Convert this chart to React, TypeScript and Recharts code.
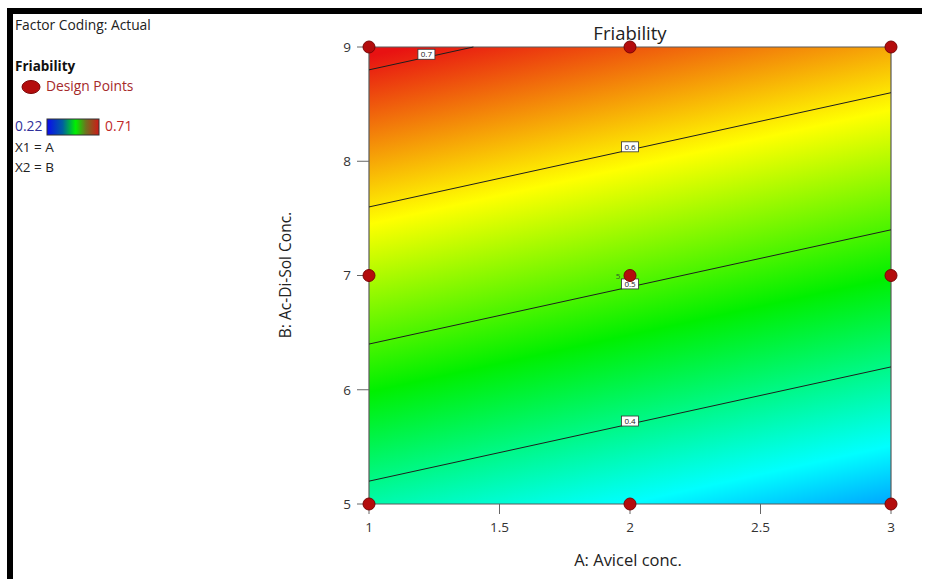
import React from 'react';
import {
  ComposedChart,
  XAxis,
  YAxis,
  Scatter,
  ReferenceArea,
  ReferenceLine,
} from 'recharts';

// ---- axes ----
const xTicks = [1, 1.5, 2, 2.5, 3];
const yTicks = [5, 6, 7, 8, 9];
const xDomain = [1, 3];
const yDomain = [5, 9];

// ---- design points (A: Avicel conc., B: Ac-Di-Sol Conc.) ----
const designA = [1, 2, 3, 1, 2, 3, 1, 2, 3];
const designB = [5, 5, 5, 7, 7, 7, 9, 9, 9];
const designRuns = [1, 1, 1, 1, 5, 1, 1, 1, 1];

// ---- contour lines of Friability ----
const contourLevels = ['0.4', '0.5', '0.6', '0.7'];
const contourStartA = [1, 1, 1, 1];
const contourStartB = [5.2, 6.4, 7.6, 8.8];
const contourEndA = [3, 3, 3, 1.4];
const contourEndB = [6.2, 7.4, 8.6, 9];
const contourLabelA = [2, 2, 2, 1.22];

// ---- fitted linear surface: F = c + a*A + b*B ----
const surfaceIntercept = 0.00833;
const surfaceCoefA = -0.041667;
const surfaceCoefB = 0.083333;

// ---- colour map ----
const colorRange = [0.22, 0.71];
const colorScale = ['#0000ff', '#00ffff', '#00f000', '#ffff00', '#e81212'];

const designPoints = designA.map((a, i) => ({ a, b: designB[i], runs: designRuns[i] }));
const contourLabels = contourLevels.map((text, i) => {
  const t = (contourLabelA[i] - contourStartA[i]) / (contourEndA[i] - contourStartA[i]);
  return { a: contourLabelA[i], b: contourStartB[i] + t * (contourEndB[i] - contourStartB[i]), text };
});

// gradient vector in the plot's bounding-box units (u right, v down)
const f0 = surfaceIntercept + surfaceCoefA * xDomain[0] + surfaceCoefB * yDomain[1];
const fu = surfaceCoefA * (xDomain[1] - xDomain[0]);
const fv = -surfaceCoefB * (yDomain[1] - yDomain[0]);
const g2 = fu * fu + fv * fv;
const pointAt = (F: number) => {
  const t = (F - f0) / g2;
  return [t * fu, t * fv];
};
const gStart = pointAt(colorRange[0]);
const gEnd = pointAt(colorRange[1]);

const FONT = '"Open Sans", "Noto Sans", sans-serif';

const DesignPoint = (props: any) => {
  const { cx, cy, payload } = props;
  return (
    <g>
      <circle cx={cx} cy={cy} r={6} fill="#b40c0c" stroke="#7a0505" strokeWidth={1} />
      {payload.runs > 1 ? (
        <text x={cx - 12} y={cy + 3} fontSize={8} fill="#2f5a2f" fontFamily={FONT} textAnchor="middle">
          {payload.runs}
        </text>
      ) : null}
    </g>
  );
};

const ContourLabel = (props: any) => {
  const { cx, cy, payload } = props;
  const y = cy - 3;
  return (
    <g>
      <rect x={cx - 8.5} y={y - 5} width={17} height={10} fill="#ffffff" stroke="#333" strokeWidth={0.8} />
      <text x={cx} y={y + 3} fontSize={8} fill="#222" fontFamily={FONT} textAnchor="middle">
        {payload.text}
      </text>
    </g>
  );
};

export default function App() {
  return (
    <div style={{ position: 'fixed', left: 0, top: 0, width: 927, height: 579, background: '#fff' }}>
      <div
        style={{
          position: 'absolute',
          left: 7,
          top: 8,
          width: 915,
          height: 571,
          borderTop: '6px solid #000',
          borderLeft: '6px solid #000',
          boxSizing: 'border-box',
        }}
      />
      <div style={{ position: 'absolute', left: 0, top: 0 }}>
        <ComposedChart width={927} height={579} margin={{ top: 47, right: 36, bottom: 0, left: 0 }}>
          <defs>
            <linearGradient
              id="friabilityFill"
              gradientUnits="objectBoundingBox"
              x1={gStart[0]}
              y1={gStart[1]}
              x2={gEnd[0]}
              y2={gEnd[1]}
            >
              {colorScale.map((c, i) => (
                <stop key={i} offset={i / (colorScale.length - 1)} stopColor={c} />
              ))}
            </linearGradient>
          </defs>
          <XAxis
            type="number"
            dataKey="a"
            domain={xDomain}
            ticks={xTicks}
            interval={0}
            height={75}
            axisLine={false}
            tickSize={10}
            tickMargin={8}
            tickLine={{ stroke: '#666' }}
            tick={{ fill: '#333', fontSize: 13.5, fontFamily: FONT }}
          />
          <YAxis
            type="number"
            dataKey="b"
            domain={yDomain}
            ticks={yTicks}
            interval={0}
            width={369}
            axisLine={false}
            tickSize={12}
            tickMargin={6}
            tickLine={{ stroke: '#666' }}
            tick={{ fill: '#333', fontSize: 13.5, fontFamily: FONT }}
          />
          <ReferenceArea
            x1={xDomain[0]}
            x2={xDomain[1]}
            y1={yDomain[0]}
            y2={yDomain[1]}
            fill="url(#friabilityFill)"
            fillOpacity={1}
            stroke="#5a5a5a"
            strokeWidth={1.2}
          />
          {contourLevels.map((lvl, i) => (
            <ReferenceLine
              key={lvl}
              segment={[
                { x: contourStartA[i], y: contourStartB[i] },
                { x: contourEndA[i], y: contourEndB[i] },
              ]}
              stroke="#1e1e1e"
              strokeWidth={1}
            />
          ))}
          <Scatter data={contourLabels} isAnimationActive={false} shape={ContourLabel} />
          <Scatter data={designPoints} isAnimationActive={false} shape={DesignPoint} />
        </ComposedChart>
      </div>
      <svg
        width={927}
        height={579}
        style={{ position: 'absolute', left: 0, top: 0, pointerEvents: 'none' }}
        fontFamily={FONT}
      >
        <defs>
          <linearGradient id="legendBar" x1="0" y1="0" x2="1" y2="0">
            <stop offset="0" stopColor="#0a0af0" />
            <stop offset="0.3" stopColor="#0060a0" />
            <stop offset="0.55" stopColor="#00f000" />
            <stop offset="0.75" stopColor="#707020" />
            <stop offset="1" stopColor="#d01818" />
          </linearGradient>
        </defs>
        <text x={15} y={30} fontSize={13.8} fill="#222">Factor Coding: Actual</text>
        <text x={15} y={71} fontSize={13.5} fontWeight="bold" fill="#111">Friability</text>
        <ellipse cx={31} cy={87} rx={9} ry={6.5} fill="#b40c0c" stroke="#7a0505" strokeWidth={1} />
        <text x={46} y={91} fontSize={13.8} fill="#a52a2a">Design Points</text>
        <text x={15} y={131} fontSize={13.8} fill="#30309a">0.22</text>
        <rect x={47} y={119} width={52} height={16} fill="url(#legendBar)" stroke="#333" strokeWidth={1} />
        <text x={105} y={131} fontSize={13.8} fill="#c02828">0.71</text>
        <text x={15} y={152} fontSize={13.5} fill="#222">X1 = A</text>
        <text x={15} y={172} fontSize={13.5} fill="#222">X2 = B</text>
        <text x={630} y={40} fontSize={18.5} fill="#222" textAnchor="middle">Friability</text>
        <text x={628} y={566} fontSize={16.5} fill="#222" textAnchor="middle">A: Avicel conc.</text>
        <text
          x={291}
          y={275}
          fontSize={15.5}
          fill="#222"
          textAnchor="middle"
          transform="rotate(-90 291 275)"
        >
          B: Ac-Di-Sol Conc.
        </text>
      </svg>
    </div>
  );
}
